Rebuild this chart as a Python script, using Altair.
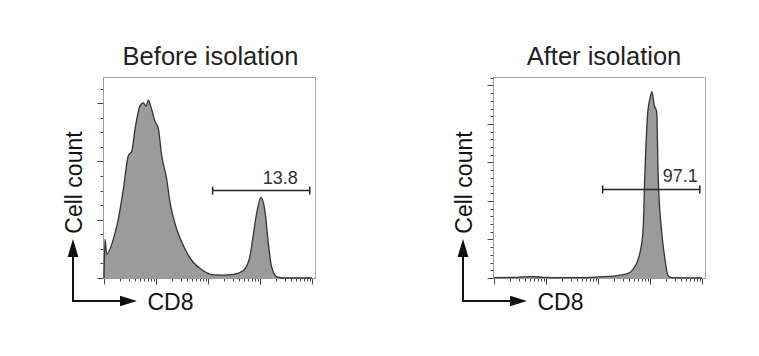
import altair as alt
import pandas as pd

FONT = "Liberation Sans"

# ---- data ----
before_cd8 = [1.0, 1.045, 1.127, 1.51, 1.884, 2.35, 2.931, 3.412, 3.945, 4.92, 5.702, 6.427,
              7.112, 7.907, 9.572, 11.07, 12.88, 16.07, 18.58, 25.0, 36.14, 52.12, 81.28,
              126.5, 199.5, 316.2, 446.7, 512.9, 645.7, 741.3, 871.0, 1047, 1259, 1445,
              1660, 2089, 2818, 10000]
before_count = [0.0, 2.67, 1.64, 2.67, 4.04, 6.08, 8.40, 8.70, 10.21, 11.80, 12.03, 11.80,
                12.21, 11.80, 10.75, 10.27, 8.40, 6.78, 5.21, 3.36, 1.99, 1.08, 0.50,
                0.21, 0.20, 0.25, 0.45, 0.62, 1.53, 2.9, 4.5, 5.53, 4.5, 2.45,
                0.84, 0.10, 0.0, 0.0]

after_cd8 = [1.0, 2.512, 3.548, 5.623, 8.913, 19.95, 50.12, 107.2, 195.0, 354.8, 478.6,
             645.7, 741.3, 794.3, 912.0, 1000, 1096, 1202, 1349, 1445, 1660, 1905, 2239,
             2630, 10000]
after_count = [0.05, 0.08, 0.15, 0.18, 0.08, 0.05, 0.05, 0.15, 0.25, 0.52, 1.17,
               3.35, 6.4, 13.0, 21.6, 23.3, 24.2, 22.5, 21.6, 13.0, 6.4, 2.9, 0.3,
               0.05, 0.0]

panel_titles = ["Before isolation", "After isolation"]
gate_low = [123, 123]
gate_high = [9120, 9120]
gate_level = [6.0, 11.5]
gate_pct = ["13.8", "97.1"]
gate_label_x = [5370, 8318]
y_top = [13.8, 26.1]
y_major_step = [4, 5]
title_dx = [1.5, 5]

x_tick_values = [m * 10 ** k for k in range(4) for m in range(1, 10)] + [10000]

W, H = 212, 201


def panel(i, cd8, count):
    hist = pd.DataFrame({"cd8": cd8, "count": count})
    xscale = alt.Scale(type="log", domain=[0.955, 11480], nice=False)
    yscale = alt.Scale(domain=[0, y_top[i]], nice=False, zero=True)
    is_decade = "abs(log(datum.value)/LN10 - round(log(datum.value)/LN10)) < 0.001"
    xaxis = alt.Axis(
        values=x_tick_values, labels=False, grid=False,
        domainColor="#999999", domainWidth=1,
        tickColor="#444444", tickWidth=1,
        tickSize={"condition": {"test": is_decade, "value": 6}, "value": 3},
        title="CD8", titleFont=FONT, titleFontSize=23, titleFontWeight="normal",
        titleColor="#111111", titleX=44, titleY=24, titleAlign="left",
        titleBaseline="middle", titleAngle=0,
    )
    y_values = list(range(0, int(y_top[i]) + 1))
    yaxis = alt.Axis(
        values=y_values, labels=False, grid=False,
        domainColor="#999999", domainWidth=1,
        tickColor="#444444", tickWidth=1,
        tickSize={"condition": {"test": f"datum.value % {y_major_step[i]} === 0", "value": 6}, "value": 3},
        title="Cell count", titleFont=FONT, titleFontSize=23, titleFontWeight="normal",
        titleColor="#111111", titleX=-29, titleY=105, titleAlign="center",
        titleBaseline="middle", titleAngle=270,
    )
    area = alt.Chart(hist).mark_area(
        color="#9b9b9b", opacity=1, interpolate="monotone",
        line={"color": "#333333", "strokeWidth": 1.3},
    ).encode(
        x=alt.X("cd8:Q", scale=xscale, axis=xaxis),
        y=alt.Y("count:Q", scale=yscale, axis=yaxis),
    )

    gate_df = pd.DataFrame({"lo": [gate_low[i]], "hi": [gate_high[i]],
                            "lvl": [gate_level[i]], "lab": [gate_pct[i]],
                            "lx": [gate_label_x[i]]})
    gate = alt.Chart(gate_df).mark_rule(color="#222222", strokeWidth=1.5).encode(
        x=alt.X("lo:Q", scale=xscale, axis=xaxis),
        x2="hi:Q",
        y=alt.Y("lvl:Q", scale=yscale, axis=yaxis),
    )
    ends_df = pd.DataFrame({"ex": [gate_low[i], gate_high[i]],
                            "lvl": [gate_level[i], gate_level[i]]})
    ends = alt.Chart(ends_df).mark_tick(orient="vertical", size=8, thickness=1.5,
                                        color="#222222", opacity=1).encode(
        x=alt.X("ex:Q", scale=xscale, axis=xaxis),
        y=alt.Y("lvl:Q", scale=yscale, axis=yaxis),
    )
    label = alt.Chart(gate_df).mark_text(
        align="right", baseline="alphabetic", dy=-7, fontSize=18,
        font=FONT, color="#333333",
    ).encode(
        x=alt.X("lx:Q", scale=xscale, axis=xaxis),
        y=alt.Y("lvl:Q", scale=yscale, axis=yaxis),
        text="lab:N",
    )

    one = pd.DataFrame({"k": [0]})
    vline = alt.Chart(one).mark_rule(color="#111111", strokeWidth=2).encode(
        x=alt.value(-30), y=alt.value(224.5), y2=alt.value(180))
    hline = alt.Chart(one).mark_rule(color="#111111", strokeWidth=2).encode(
        x=alt.value(-31), x2=alt.value(19), y=alt.value(224))
    up_head = alt.Chart(one).mark_point(
        shape="M0,-1L-0.6,1L0.6,1Z", filled=True, opacity=1, color="#111111", size=324,
    ).encode(x=alt.value(-30), y=alt.value(171))
    right_head = alt.Chart(one).mark_point(
        shape="M1,0L-1,-0.62L-1,0.62Z", filled=True, opacity=1, color="#111111", size=289,
    ).encode(x=alt.value(25.5), y=alt.value(224))

    return alt.layer(area, gate, ends, label, vline, hline, up_head, right_head).properties(
        width=W, height=H,
        title=alt.TitleParams(panel_titles[i], font=FONT, fontSize=25.5, fontWeight="normal",
                              color="#222222", offset=7, dx=title_dx[i]),
    )


left = panel(0, before_cd8, before_count)
right = panel(1, after_cd8, after_count)

chart = alt.hconcat(left, right, spacing=136).properties(
    padding={"left": 62, "top": 44, "right": 5, "bottom": 5},
).configure_view(stroke="#aaaaaa", strokeWidth=1)

chart.save("out.html", embed_options={"renderer": "svg", "actions": False})
